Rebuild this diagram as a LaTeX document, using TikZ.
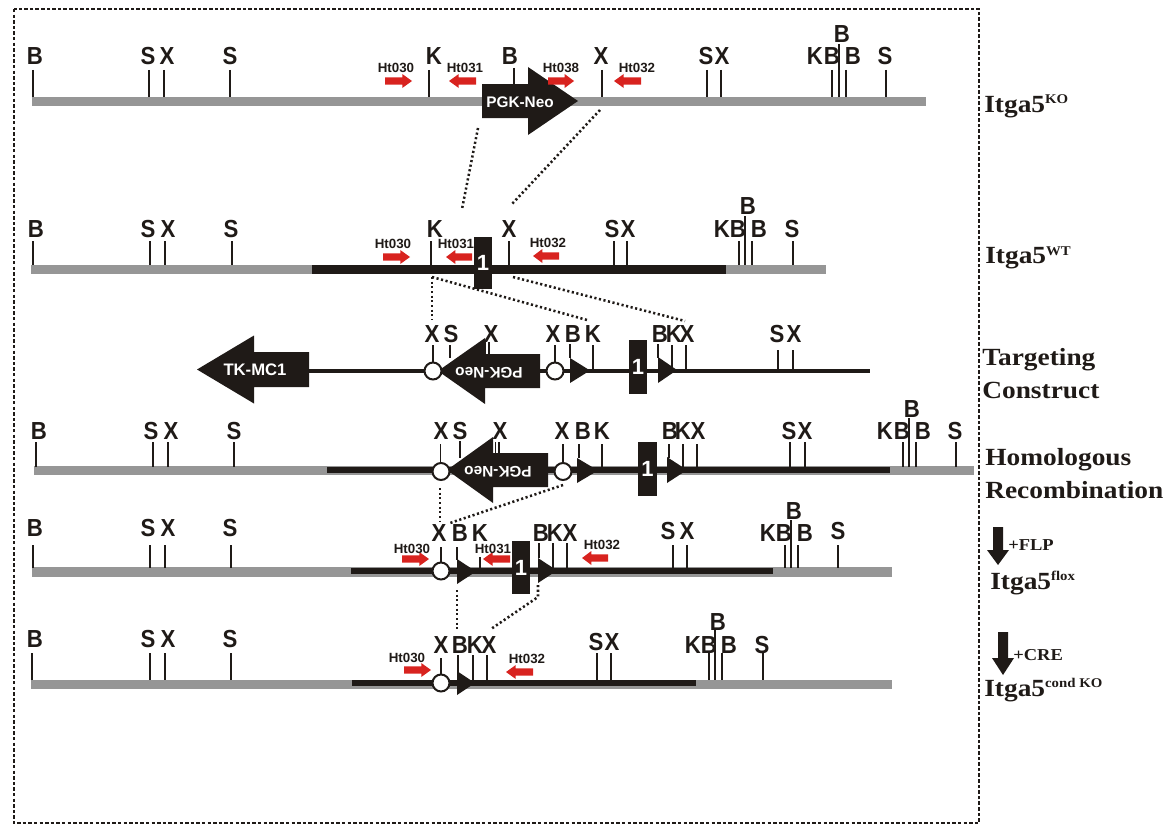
\documentclass[tikz,border=0pt]{standalone}
\usepackage{fontspec}
\setmainfont{Liberation Sans}
\newfontfamily\serifbf[BoldFont={Liberation Serif Bold}]{Liberation Serif}
\definecolor{ink}{HTML}{1F1A17}
\definecolor{barg}{HTML}{969696}
\definecolor{redA}{HTML}{D8231F}
\newcount\sitecnt
\newcommand{\bump}{\global\advance\sitecnt by 1\relax}
% tick: x, top, bottom
\newcommand{\tk}[3]{\draw[tickline] (#1,#2) -- (#1,#3);}
% site label: x, y, text
\newcommand{\lb}[3]{\bump\node[sitelabel] (site\the\sitecnt) at (#1,#2) {#3};}
% Primer arrow: x from, x to, y, label x, label y, text
\newcommand{\primer}[6]{\bump
  \pgfmathsetmacro{\hb}{#2-(#2-(#1))*0.36}
  \fill[redA] (#1,#3-3.7) -- (\hb,#3-3.7) -- (\hb,#3-7) -- (#2,#3) -- (\hb,#3+7) -- (\hb,#3+3.7) -- (#1,#3+3.7) -- cycle;
  \node[htlabel] (ht\the\sitecnt) at (#4,#5) {#6};}
% block arrow: tail x, head base x, tip x, y centre, half body, half head
\newcommand{\block}[6]{\fill[ink] (#1,#4-#5) -- (#2,#4-#5) -- (#2,#4-#6) -- (#3,#4) -- (#2,#4+#6) -- (#2,#4+#5) -- (#1,#4+#5) -- cycle;}
\newcommand{\lox}[4]{\fill[ink] (#1,#3) -- (#2,{(#3+#4)/2}) -- (#1,#4) -- cycle;}
\newcommand{\supr}[1]{\raisebox{6.5pt}{\fontsize{10}{10}\selectfont #1}}
\tikzset{
  x=0.75pt,y=-0.75pt,
  tickline/.style={draw=ink,line width=1.4pt},
  sitelabel/.style={font=\fontsize{18.5}{18.5}\selectfont\bfseries,text=ink,inner sep=0pt,xscale=.9,transform shape},
  htlabel/.style={font=\fontsize{10}{10}\selectfont\bfseries,text=ink,inner sep=0pt},
  graybar/.style={draw=none,fill=barg},
  blackbar/.style={draw=none,fill=ink},
  exon/.style={fill=ink,draw=none,text=white,font=\fontsize{16.5}{16.5}\selectfont\bfseries,inner sep=0pt},
  wlabel/.style={text=white,font=\fontsize{11.5}{12}\selectfont\bfseries,inner sep=0pt},
  frt/.style={circle,draw=ink,fill=white,line width=1.5pt,minimum size=17*0.75pt,inner sep=0pt},
  linkdot/.style={draw=ink,line width=1.9pt,dash pattern=on 1.6pt off 1.9pt},
  sidelabel/.style={font=\serifbf\bfseries\fontsize{18.5}{20}\selectfont,text=ink,inner sep=0pt,anchor=west,xscale=1.11,transform shape},
  frame/.style={draw=ink,line width=1.5pt,dash pattern=on 2.6pt off 1.6pt}
}
\newcommand{\exonbox}[6]{\node[exon,minimum width=#3*0.75pt,minimum height=#4*0.75pt] (#6) at (#1,#2) {#5};}
\begin{document}
\begin{tikzpicture}
\useasboundingbox (0,0) rectangle (1166,824);
\draw[frame] (13.5,9) rectangle (979,823) ;

%%% Row 1: KO
\fill[graybar] (32,96.5) rectangle (926,105.5);
\foreach \x in {33,149,164,230,429,602,707,721,832,846,886} {\tk{\x}{70}{97}}
\tk{839}{44}{97}
\tk{514}{68}{90}
\block{482}{528}{578}{101}{17}{34}
\node[wlabel] (neoA) at (520,102) {PGK-Neo};
\lb{35}{56}{B}\lb{148}{56}{S}\lb{167}{56}{X}\lb{230}{56}{S}
\lb{434}{56}{K}\lb{510}{56}{B}\lb{601}{56}{X}\lb{706}{56}{S}\lb{722}{56}{X}
\lb{815}{56}{K}\lb{832}{56}{B}\lb{842}{34}{B}\lb{853}{56}{B}\lb{885}{56}{S}
\primer{385}{412}{81}{396}{68}{Ht030}
\primer{476}{449}{81}{465}{68}{Ht031}
\primer{548}{574}{81}{561}{68}{Ht038}
\primer{641}{614}{81}{637}{68}{Ht032}

%%% Row 2: WT
\fill[graybar] (31,264.5) rectangle (826,273.5);
\fill[blackbar] (312,264.5) rectangle (726,273.5);
\foreach \x in {33,150,165,232,431,509,614,627,739,752,793} {\tk{\x}{241}{265}}
\tk{745}{216}{265}
\exonbox{483}{263}{18}{52}{\raisebox{-3pt}{1}}{exonB}
\lb{36}{229}{B}\lb{148}{229}{S}\lb{168}{229}{X}\lb{231}{229}{S}
\lb{435}{229}{K}\lb{509}{229}{X}\lb{612}{229}{S}\lb{628}{229}{X}
\lb{722}{229}{K}\lb{738}{229}{B}\lb{748}{206}{B}\lb{759}{229}{B}\lb{792}{229}{S}
\primer{383}{410}{257}{393}{244}{Ht030}
\primer{472}{446}{257}{456}{244}{Ht031}
\primer{559}{533}{256}{548}{243}{Ht032}

%%% Row 3: Targeting construct
\fill[blackbar] (305,368.6) rectangle (870,373.4);
\foreach \x in {433,555} {\tk{\x}{345}{363}}
\tk{450}{345}{358}
\tk{593}{345}{371}\tk{570}{344}{358}
\tk{658}{344}{358}\tk{672}{345}{371}\tk{686}{345}{372}
\tk{778}{350}{371}\tk{793}{350}{371}
\draw[draw=ink,line width=.8pt] (485.5,342) -- (485.5,354) (489,342) -- (489,354);
\block{309}{254}{197}{369.5}{17.5}{34}
\node[wlabel,font=\fontsize{12.5}{13}\selectfont\bfseries] (tk) at (255,370) {TK-MC1};
\block{540}{485}{438}{371}{17}{33}
\node[wlabel,rotate=180] (neoC) at (489,373) {PGK-Neo};
\node[frt] (c1) at (433,371) {};
\node[frt] (c2) at (555,371) {};
\lox{570}{590}{358}{383}
\lox{658}{677}{357}{383}
\exonbox{638}{367}{18}{54}{1}{exonC}
\lb{432}{334}{X}\lb{451}{334}{S}\lb{491}{334}{X}\lb{553}{334}{X}\lb{573}{334}{B}\lb{593}{334}{K}
\lb{660}{334}{B}\lb{674}{334}{K}\lb{687}{334}{X}\lb{777}{334}{S}\lb{794}{334}{X}

%%% Row 4: Homologous recombination
\fill[graybar] (34,466) rectangle (974,475);
\fill[blackbar] (327,467.3) rectangle (890,473);
\foreach \x in {36,153,168,234,790,805,903,916,956} {\tk{\x}{442}{467}}
\tk{909}{418}{467}
\tk{440.5}{444}{466}\tk{460}{441}{458}\tk{563}{444}{463}\tk{579}{444}{458}
\tk{602}{444}{469}\tk{669}{444}{458}\tk{683}{444}{469}\tk{697}{444}{469}
\draw[draw=ink,line width=.8pt] (495.5,442) -- (495.5,454) (499,442) -- (499,454);
\block{548}{493}{447}{470}{17}{33}
\node[wlabel,rotate=180] (neoD) at (498,472) {PGK-Neo};
\node[frt] (d1) at (441,471.5) {};
\node[frt] (d2) at (563,471.5) {};
\lox{577}{598}{458}{483}
\lox{667}{687}{457}{483}
\exonbox{647.5}{469}{19}{54}{1}{exonD}
\lb{39}{431}{B}\lb{151}{431}{S}\lb{171}{431}{X}\lb{234}{431}{S}
\lb{441}{431}{X}\lb{460}{431}{S}\lb{500}{431}{X}\lb{562}{431}{X}\lb{583}{431}{B}\lb{602}{431}{K}
\lb{670}{431}{B}\lb{683}{431}{K}\lb{698}{431}{X}\lb{789}{431}{S}\lb{805}{431}{X}
\lb{885}{431}{K}\lb{902}{431}{B}\lb{912}{409}{B}\lb{923}{431}{B}\lb{955}{431}{S}

%%% Row 5: flox
\fill[graybar] (32,567) rectangle (892,576.5);
\fill[blackbar] (351,568.2) rectangle (773,574);
\foreach \x in {33,150,165,231,673,687,785,798,838} {\tk{\x}{545}{568}}
\tk{791}{520}{568}
\tk{441}{547}{563}\tk{457}{547}{560}\tk{480}{557}{568}
\tk{539}{543}{558}\tk{553}{543}{568}\tk{567}{543}{568}
\node[frt] (e1) at (441,571) {};
\lox{457}{476}{559}{584}
\lox{538}{557}{558}{583}
\exonbox{521}{567.5}{18}{53}{1}{exonE}
\lb{35}{528}{B}\lb{148}{528}{S}\lb{168}{528}{X}\lb{230}{528}{S}
\lb{439}{533}{X}\lb{460}{533}{B}\lb{480}{533}{K}\lb{541}{533}{B}\lb{555}{533}{K}\lb{570}{533}{X}
\lb{668}{531}{S}\lb{687}{531}{X}\lb{768}{533}{K}\lb{784}{533}{B}\lb{794}{511}{B}\lb{805}{533}{B}\lb{838}{531}{S}
\primer{402}{429}{559}{412}{549}{Ht030}
\primer{510}{483}{559}{493}{549}{Ht031}
\primer{608}{582}{558}{602}{545}{Ht032}

%%% Row 6: conditional KO
\fill[graybar] (31,679.5) rectangle (892,689);
\fill[blackbar] (352,680.2) rectangle (696,686);
\foreach \x in {32,150,165,231,597,611,709,722,763} {\tk{\x}{653}{680}}
\tk{715}{630}{680}
\tk{441}{658}{675}\tk{458}{655}{672}\tk{473}{655}{680}\tk{487}{655}{680}
\node[frt] (f1) at (441,683) {};
\lox{457}{475}{671}{695}
\lb{35}{639}{B}\lb{148}{639}{S}\lb{168}{639}{X}\lb{230}{639}{S}
\lb{441}{645}{X}\lb{460}{645}{B}\lb{475}{645}{K}\lb{489}{645}{X}\lb{596}{642}{S}\lb{612}{642}{X}
\lb{693}{645}{K}\lb{709}{645}{B}\lb{718}{622}{B}\lb{729}{645}{B}\lb{762}{645}{S}
\primer{404}{431}{670}{407}{658}{Ht030}
\primer{533}{506}{672}{527}{659}{Ht032}

%%% Dotted links
\coordinate (a1) at (478,128); \coordinate (a2) at (462,209);
\coordinate (a3) at (600,110); \coordinate (a4) at (512,204);
\coordinate (b1) at (432,277); \coordinate (b2) at (432,320);
\coordinate (b3) at (587,320); \coordinate (b4) at (513,277); \coordinate (b5) at (685,321);
\coordinate (g1) at (440,488); \coordinate (g2) at (440,522);
\coordinate (g3) at (563,485); \coordinate (g4) at (450,523);
\coordinate (h1) at (457,590); \coordinate (h2) at (457,629);
\coordinate (h3) at (538,585); \coordinate (h4) at (538,597); \coordinate (h5) at (491,629);
\draw[linkdot] (a1) -- (a2);
\draw[linkdot] (a3) -- (a4);
\draw[linkdot] (b1) -- (b2);
\draw[linkdot] (b1) -- (b3);
\draw[linkdot] (b4) -- (b5);
\draw[linkdot] (g1) -- (g2);
\draw[linkdot] (g3) -- (g4);
\draw[linkdot] (h1) -- (h2);
\draw[linkdot] (h3) -- (h4) -- (h5);

%%% Side labels
\node[sidelabel] (tKO) at (984,106) {Itga5\supr{KO}};
\node[sidelabel] (tWT) at (985,258) {Itga5\supr{WT}};
\node[sidelabel] (tT1) at (982,360) {Targeting};
\node[sidelabel] (tT2) at (982,390) {Construct};
\node[sidelabel] (tH1) at (985,460) {Homologous};
\node[sidelabel] (tH2) at (985,490) {Recombination};
\node[sidelabel] (tFL) at (990,583) {Itga5\supr{flox}};
\node[sidelabel] (tCK) at (984,690) {Itga5\supr{cond KO}};
\node[sidelabel,font=\serifbf\bfseries\fontsize{12.5}{13}\selectfont] (tFLP) at (1008,545) {+FLP};
\node[sidelabel,font=\serifbf\bfseries\fontsize{12.5}{13}\selectfont] (tCRE) at (1013,655) {+CRE};
\fill[ink] (993,527) -- (1003,527) -- (1003,550) -- (1009,550) -- (998,565) -- (987,550) -- (993,550) -- cycle;
\fill[ink] (998,632) -- (1008,632) -- (1008,658) -- (1014,658) -- (1003,675) -- (992,658) -- (998,658) -- cycle;
\end{tikzpicture}
\end{document}
